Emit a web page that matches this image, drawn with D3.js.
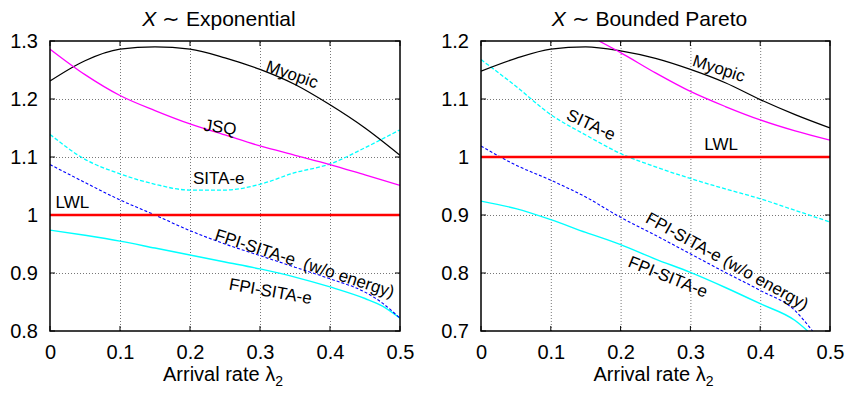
<!DOCTYPE html>
<html>
<head>
<meta charset="utf-8">
<script src="https://cdn.jsdelivr.net/npm/d3@7"></script>
<style>
  body { margin: 0; background: #fff; }
  svg text { font-family: "Liberation Sans", Arial, sans-serif; fill: #000; }
</style>
</head>
<body>
<svg id="chart" width="848" height="393"></svg>
<script>
// arrival rate grid (lambda_2)
const lambda = [0, 0.05, 0.1, 0.15, 0.2, 0.25, 0.3, 0.35, 0.4, 0.45, 0.5]
const lambdaTail = [0, 0.05, 0.1, 0.15, 0.2, 0.25, 0.3, 0.35, 0.4, 0.45, 0.475, 0.5]
const xTicks = [0, 0.1, 0.2, 0.3, 0.4, 0.5]

// X ~ Exponential
const expMyopic = [1.231, 1.266, 1.286, 1.290, 1.286, 1.271, 1.251, 1.225, 1.190, 1.150, 1.103]
const expJSQ = [1.286, 1.242, 1.206, 1.180, 1.157, 1.138, 1.119, 1.103, 1.087, 1.069, 1.051]
const expSITA = [1.139, 1.096, 1.071, 1.053, 1.043, 1.043, 1.053, 1.073, 1.088, 1.116, 1.147]
const expFPInoE = [1.087, 1.056, 1.026, 1.000, 0.973, 0.950, 0.930, 0.910, 0.890, 0.867, 0.848, 0.822]
const expFPI = [0.974, 0.965, 0.955, 0.943, 0.931, 0.919, 0.907, 0.893, 0.876, 0.856, 0.843, 0.822]
const expYTicks = [0.8, 0.9, 1.0, 1.1, 1.2, 1.3]

// X ~ Bounded Pareto
const bpMyopic = [1.148, 1.170, 1.186, 1.190, 1.183, 1.170, 1.151, 1.128, 1.099, 1.073, 1.050]
const bpJSQLambda = [0.169, 0.2, 0.25, 0.3, 0.35, 0.4, 0.45, 0.5]
const bpJSQ = [1.200, 1.180, 1.145, 1.113, 1.087, 1.064, 1.045, 1.029]
const bpSITA = [1.168, 1.122, 1.073, 1.038, 1.006, 0.983, 0.963, 0.945, 0.928, 0.908, 0.888]
const bpFPInoELambda = [0, 0.05, 0.1, 0.15, 0.2, 0.25, 0.3, 0.35, 0.4, 0.45, 0.475]
const bpFPInoE = [1.019, 0.986, 0.960, 0.931, 0.896, 0.865, 0.833, 0.801, 0.770, 0.735, 0.700]
const bpFPILambda = [0, 0.05, 0.1, 0.15, 0.2, 0.25, 0.3, 0.35, 0.4, 0.45, 0.468]
const bpFPI = [0.924, 0.911, 0.892, 0.870, 0.849, 0.824, 0.801, 0.775, 0.747, 0.718, 0.700]
const bpYTicks = [0.7, 0.8, 0.9, 1.0, 1.1, 1.2]

// LWL is the normalisation baseline
const lwlLambda = [0, 0.5]
const lwlValue = [1, 1]

const styles = {
  myopic: { color: "#000000", width: 1.3, dash: null },
  jsq: { color: "#ff00ff", width: 1.3, dash: null },
  sita: { color: "#00ffff", width: 1.3, dash: "4,2" },
  fpiNoE: { color: "#0000ff", width: 1.1, dash: "3,2" },
  fpi: { color: "#00ffff", width: 1.4, dash: null },
  lwl: { color: "#ff0000", width: 2.6, dash: null },
}

const zip = (xs, ys) => xs.map((x, i) => [x, ys[i]])

const panels = [
  {
    title: "Exponential",
    left: 50, right: 400,
    yDomain: [0.8, 1.3], yTicks: expYTicks,
    series: [
      ["sita", zip(lambda, expSITA)],
      ["fpi", zip(lambdaTail, expFPI)],
      ["fpiNoE", zip(lambdaTail, expFPInoE)],
      ["myopic", zip(lambda, expMyopic)],
      ["jsq", zip(lambda, expJSQ)],
      ["lwl", zip(lwlLambda, lwlValue)],
    ],
    // [text, lambda, value, angle]
    labels: [
      ["Myopic", 0.346, 1.243, 19],
      ["JSQ", 0.243, 1.152, 8],
      ["SITA-e", 0.241, 1.063, 0],
      ["LWL", 0.032, 1.0216, 0],
      ["FPI-SITA-e\u00A0 (w/o energy)", 0.364, 0.917, 18],
      ["FPI-SITA-e", 0.315, 0.869, 10],
    ],
  },
  {
    title: "Bounded Pareto",
    left: 481, right: 830,
    yDomain: [0.7, 1.2], yTicks: bpYTicks,
    series: [
      ["sita", zip(lambda, bpSITA)],
      ["fpi", zip(bpFPILambda, bpFPI)],
      ["fpiNoE", zip(bpFPInoELambda, bpFPInoE)],
      ["myopic", zip(lambda, bpMyopic)],
      ["jsq", zip(bpJSQLambda, bpJSQ)],
      ["lwl", zip(lwlLambda, lwlValue)],
    ],
    labels: [
      ["Myopic", 0.341, 1.153, 18],
      ["SITA-e", 0.158, 1.056, 25],
      ["LWL", 0.344, 1.0216, 0],
      ["FPI-SITA-e (w/o energy)", 0.353, 0.821, 29],
      ["FPI-SITA-e", 0.268, 0.794, 22],
    ],
  },
]

const plotTop = 41
const plotBottom = 331
const fmt = (d) => String(+d.toFixed(1))

const svg = d3.select("#chart")
const defs = svg.append("defs")

panels.forEach((p, pi) => {
  const x = d3.scaleLinear().domain([0, 0.5]).range([p.left, p.right])
  const y = d3.scaleLinear().domain(p.yDomain).range([plotBottom, plotTop])
  const w = p.right - p.left
  const h = plotBottom - plotTop
  const g = svg.append("g")

  // Grid (dotted, gnuplot style)
  g.append("g")
    .attr("transform", `translate(0,${plotBottom})`)
    .call(d3.axisBottom(x).tickValues(xTicks.slice(1, -1)).tickSize(-h).tickFormat(""))
    .call((s) => s.select(".domain").remove())
    .selectAll("line")
    .attr("stroke", "#777")
    .attr("stroke-dasharray", "1,2")
  g.append("g")
    .attr("transform", `translate(${p.left},0)`)
    .call(d3.axisLeft(y).tickValues(p.yTicks.slice(1, -1)).tickSize(-w).tickFormat(""))
    .call((s) => s.select(".domain").remove())
    .selectAll("line")
    .attr("stroke", "#777")
    .attr("stroke-dasharray", "1,2")

  // Inward tick marks on all four sides
  const tickLen = 5
  const tk = g.append("g").attr("stroke", "#000").attr("stroke-width", 1)
  xTicks.forEach((t) => {
    tk.append("line").attr("x1", x(t)).attr("x2", x(t)).attr("y1", plotBottom).attr("y2", plotBottom - tickLen)
    tk.append("line").attr("x1", x(t)).attr("x2", x(t)).attr("y1", plotTop).attr("y2", plotTop + tickLen)
  })
  p.yTicks.forEach((t) => {
    tk.append("line").attr("x1", p.left).attr("x2", p.left + tickLen).attr("y1", y(t)).attr("y2", y(t))
    tk.append("line").attr("x1", p.right).attr("x2", p.right - tickLen).attr("y1", y(t)).attr("y2", y(t))
  })

  // Tick labels
  g.append("g")
    .attr("transform", `translate(${p.left},0)`)
    .call(d3.axisLeft(y).tickValues(p.yTicks).tickSize(0).tickPadding(12).tickFormat(fmt))
    .call((s) => s.select(".domain").remove())
    .selectAll("text")
    .attr("font-size", 20)
    .attr("font-family", null)
  g.append("g")
    .attr("transform", `translate(0,${plotBottom})`)
    .call(d3.axisBottom(x).tickValues(xTicks).tickSize(0).tickPadding(14).tickFormat(fmt))
    .call((s) => s.select(".domain").remove())
    .selectAll("text")
    .attr("font-size", 20)
    .attr("font-family", null)

  // Curves, clipped to the plot box
  const clipId = "clip" + pi
  defs.append("clipPath").attr("id", clipId)
    .append("rect").attr("x", p.left).attr("y", plotTop).attr("width", w).attr("height", h)
  const line = d3.line().x((d) => x(d[0])).y((d) => y(d[1])).curve(d3.curveMonotoneX)
  const curves = g.append("g").attr("clip-path", `url(#${clipId})`)
  p.series.forEach(([key, pts]) => {
    const st = styles[key]
    curves.append("path")
      .datum(pts)
      .attr("d", line)
      .attr("fill", "none")
      .attr("stroke", st.color)
      .attr("stroke-width", st.width)
      .attr("stroke-dasharray", st.dash)
  })

  // Curve labels
  g.append("g")
    .selectAll("text")
    .data(p.labels)
    .join("text")
    .attr("transform", (d) => `translate(${x(d[1])},${y(d[2])}) rotate(${d[3]})`)
    .attr("text-anchor", "middle")
    .attr("dy", "0.35em")
    .attr("font-size", 17)
    .text((d) => d[0])

  // Frame
  g.append("rect")
    .attr("x", p.left).attr("y", plotTop).attr("width", w).attr("height", h)
    .attr("fill", "none").attr("stroke", "#000").attr("stroke-width", 1.5)

  // Title
  const title = g.append("text")
    .attr("x", (p.left + p.right) / 2 - 6)
    .attr("y", 26)
    .attr("text-anchor", "middle")
    .attr("font-size", 21)
  title.append("tspan").attr("font-style", "italic").text("X")
  title.append("tspan").text(" \u223C " + p.title)

  // Axis title
  const xl = g.append("text")
    .attr("x", (p.left + p.right) / 2 - 2)
    .attr("y", 381)
    .attr("text-anchor", "middle")
    .attr("font-size", 20)
  xl.append("tspan").text("Arrival rate \u03BB")
  xl.append("tspan").attr("font-size", 14).attr("dy", 5).text("2")
})
</script>
</body>
</html>
